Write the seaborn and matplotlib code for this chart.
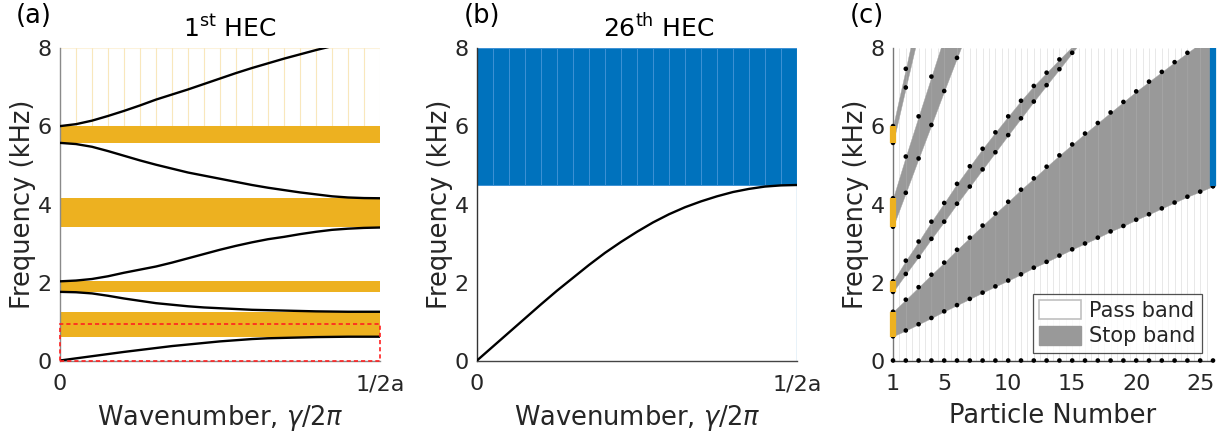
import numpy as np
import matplotlib
matplotlib.use("Agg")
import matplotlib.pyplot as plt
from matplotlib.patches import Rectangle, Patch
import seaborn as sns

sns.set_theme(style="white")
plt.rcParams["font.family"] = ["DejaVu Sans"]
plt.rcParams["mathtext.fontset"] = "dejavusans"

YELLOW = "#EDB120"
BLUE = "#0072BD"
GRAY = "#999999"
TEXT = "#262626"

# ---- (a) dispersion of the 1st HEC -------------------------------------
wavenumber = [0.000, 0.025, 0.050, 0.075, 0.100, 0.125, 0.150, 0.175, 0.200, 0.225, 0.250,
              0.275, 0.300, 0.325, 0.350, 0.375, 0.400, 0.425, 0.450, 0.475, 0.500]
hec1_branch1 = [0.00, 0.055, 0.11, 0.165, 0.22, 0.27, 0.32, 0.37, 0.41, 0.45, 0.49,
                0.52, 0.55, 0.57, 0.58, 0.59, 0.60, 0.605, 0.61, 0.61, 0.61]
hec1_branch2 = [1.76, 1.75, 1.72, 1.66, 1.59, 1.53, 1.47, 1.43, 1.39, 1.36, 1.34,
                1.32, 1.30, 1.29, 1.28, 1.27, 1.26, 1.255, 1.25, 1.25, 1.25]
hec1_branch3 = [2.03, 2.05, 2.09, 2.16, 2.25, 2.33, 2.41, 2.51, 2.62, 2.73, 2.84,
                2.94, 3.03, 3.11, 3.17, 3.24, 3.30, 3.35, 3.38, 3.40, 3.41]
hec1_branch4 = [5.58, 5.55, 5.48, 5.37, 5.25, 5.13, 5.02, 4.92, 4.82, 4.74, 4.66,
                4.58, 4.50, 4.43, 4.37, 4.31, 4.26, 4.21, 4.18, 4.165, 4.16]
hec1_branch5 = [6.01, 6.06, 6.15, 6.27, 6.40, 6.54, 6.69, 6.82, 6.95, 7.09, 7.23,
                7.37, 7.50, 7.62, 7.74, 7.85, 7.96, 8.06, 8.15, 8.23, 8.30]
hec1_stop_lower = [0.61, 1.76, 3.43, 5.58]
hec1_stop_upper = [1.25, 2.03, 4.16, 6.01]
zoom_box_top = 0.93

# ---- (b) dispersion of the 26th HEC ------------------------------------
hec26_branch = [0.00, 0.36, 0.72, 1.08, 1.44, 1.79, 2.12, 2.45, 2.76, 3.04, 3.30,
                3.54, 3.75, 3.93, 4.08, 4.21, 4.32, 4.40, 4.46, 4.49, 4.50]
hec26_stop_lower = 4.50

# ---- (c) band edges along the chain ------------------------------------
particles = list(range(1, 27))
band1_lower = [0.62, 0.77, 0.93, 1.09, 1.26, 1.42, 1.58, 1.74, 1.90, 2.05, 2.21, 2.38, 2.53,
               2.69, 2.85, 3.00, 3.15, 3.31, 3.45, 3.61, 3.75, 3.90, 4.05, 4.20, 4.33, 4.47]
band1_upper = [1.25, 1.56, 1.88, 2.20, 2.51, 2.84, 3.15, 3.46, 3.77, 4.07, 4.38, 4.67, 4.97,
               5.26, 5.54, 5.82, 6.09, 6.36, 6.63, 6.90, 7.15, 7.40, 7.65, 7.89, 8.13, 8.37]
band2_lower = [1.76, 2.22, 2.66, 3.12, 3.56, 4.02, 4.46, 4.90, 5.34, 5.78, 6.21, 6.64, 7.06,
               7.47, 7.89, 8.30]
band2_upper = [2.03, 2.56, 3.05, 3.56, 4.04, 4.53, 4.98, 5.43, 5.85, 6.26, 6.66, 7.04, 7.38,
               7.72, 8.05, 8.38]
band3_lower = [3.43, 4.30, 5.18, 6.04, 6.91, 7.76, 8.60]
band3_upper = [4.16, 5.23, 6.26, 7.28, 8.30, 9.30, 10.30]
band4_lower = [5.58, 7.00, 8.40]
band4_upper = [6.01, 7.48, 9.00]
hec26_edge = 4.47

FMAX = 8.0
LABEL_FS = 18.5
TICK_FS = 16

fig = plt.figure(figsize=(12.18, 4.36), dpi=100)
W, H = 1218.0, 436.0
bottom = (H - 360.5) / H
height = 312.0 / H
width = 320.0 / W
ax_a = fig.add_axes([60 / W, bottom, width, height])
ax_b = fig.add_axes([477 / W, bottom, width, height])
ax_c = fig.add_axes([893 / W, bottom, width, height])


def style_axes(ax, left_color, bottom_color):
    for s in ("top", "right"):
        ax.spines[s].set_visible(False)
    ax.spines["left"].set_color(left_color)
    ax.spines["bottom"].set_color(bottom_color)
    ax.spines["left"].set_linewidth(1.0)
    ax.spines["bottom"].set_linewidth(1.0)
    ax.tick_params(axis="both", direction="in", length=3, width=0.8,
                   colors=TEXT, labelsize=TICK_FS, labelcolor=TEXT)
    ax.tick_params(axis="x", pad=10)
    ax.tick_params(axis="y", pad=6)
    ax.set_ylim(0, FMAX)
    ax.set_yticks([0, 2, 4, 6, 8])
    ax.set_ylabel("Frequency (kHz)", fontsize=LABEL_FS, color=TEXT, labelpad=1)
    ax.set_facecolor("white")


# ---------------- (a) ----------------
ax = ax_a
style_axes(ax, "#8a8a8a", "#8a8a8a")
ax.set_xlim(0, 0.5)
for lo, hi in zip(hec1_stop_lower, hec1_stop_upper):
    ax.axhspan(lo, hi, color=YELLOW, lw=0, zorder=1)
# faint upper region above the last gap
edges = np.linspace(0, 0.5, 21)
for x0, x1 in zip(edges[:-1], edges[1:]):
    ax.add_patch(Rectangle((x0, hec1_stop_upper[-1]), x1 - x0, FMAX - hec1_stop_upper[-1],
                           facecolor="none", edgecolor=YELLOW, alpha=0.16, lw=0.8, zorder=0.5))
for branch in (hec1_branch1, hec1_branch2, hec1_branch3, hec1_branch4, hec1_branch5):
    sns.lineplot(x=wavenumber, y=branch, ax=ax, color="black", lw=1.7, zorder=3)
ax.add_patch(Rectangle((0, 0), 0.5, zoom_box_top, fill=False, edgecolor="#FF2020",
                       ls=(0, (2.5, 1.8)), lw=1.2, clip_on=False, zorder=5))
ax.set_xticks([0, 0.5])
ax.set_xticklabels(["0", "1/2a"])
ax.set_xlabel(r"Wavenumber, $\gamma/2\pi$", fontsize=LABEL_FS, color=TEXT, labelpad=6)
ax.text(0.53, 1 + 11 / 312, r"1$^{\mathrm{st}}$ HEC", transform=ax.transAxes,
        ha="center", va="baseline", fontsize=18, color="black")

# ---------------- (b) ----------------
ax = ax_b
style_axes(ax, "#333333", "#444444")
ax.set_xlim(0, 0.5)
edges = np.linspace(0, 0.5, 21)
for x0, x1 in zip(edges[:-1], edges[1:]):
    ax.add_patch(Rectangle((x0, hec26_stop_lower), x1 - x0, FMAX - hec26_stop_lower,
                           facecolor=BLUE, edgecolor="#3d91d4", lw=0.7, zorder=1))
ax.axvline(0.5, color="#4c9bd6", lw=0.9, zorder=2)
sns.lineplot(x=wavenumber, y=hec26_branch, ax=ax, color="black", lw=1.7, zorder=3)
ax.set_xticks([0, 0.5])
ax.set_xticklabels(["0", "1/2a"])
ax.set_xlabel(r"Wavenumber, $\gamma/2\pi$", fontsize=LABEL_FS, color=TEXT, labelpad=6)
ax.text(0.567, 1 + 11 / 312, r"26$^{\mathrm{th}}$ HEC", transform=ax.transAxes,
        ha="center", va="baseline", fontsize=18, color="black")

# ---------------- (c) ----------------
ax = ax_c
style_axes(ax, "#777777", "#444444")
ax.set_xlim(1, 26)
ax.vlines(np.arange(1, 26.01, 0.5), 0, FMAX, colors="#e8e8e8", lw=0.7, zorder=0.5)

bands = [(band1_lower, band1_upper), (band2_lower, band2_upper),
         (band3_lower, band3_upper), (band4_lower, band4_upper)]
for lower, upper in bands:
    n = len(lower)
    p = particles[:n]
    for i in range(n - 1):
        ax.fill_between([p[i], p[i + 1]], [lower[i], lower[i + 1]], [upper[i], upper[i + 1]],
                        facecolor=GRAY, edgecolor="#a3a3a3", lw=0.3, zorder=1)

# band-edge markers
xs, ys = [], []
for lower, upper in bands:
    for vals in (lower, upper):
        for p, v in zip(particles, vals):
            if v <= FMAX:
                xs.append(p)
                ys.append(v)
xs += particles
ys += [0.0] * len(particles)
xs.append(26)
ys.append(hec26_edge)
sns.scatterplot(x=xs, y=ys, ax=ax, color="black", s=11, edgecolor="none",
                zorder=4, legend=False)
ax.collections[-1].set_clip_on(False)

ax.vlines([1] * len(hec1_stop_lower), hec1_stop_lower, hec1_stop_upper, colors=YELLOW,
          lw=4.5, zorder=6, clip_on=False)
ax.vlines([26], [hec26_edge], [FMAX], colors=BLUE, lw=4.5, zorder=6, clip_on=False)

ax.set_xticks([1, 5, 10, 15, 20, 25])
ax.set_xlabel("Particle Number", fontsize=LABEL_FS, color=TEXT, labelpad=6)

handles = [Patch(facecolor="white", edgecolor="#c0c0c0", lw=1.2, label="Pass band"),
           Patch(facecolor=GRAY, edgecolor=GRAY, label="Stop band")]
leg = ax.legend(handles=handles, loc="lower right", bbox_to_anchor=(0.965, 0.025),
                fontsize=15, frameon=True, fancybox=False, handlelength=2.0,
                handleheight=1.0, handletextpad=0.4, borderpad=0.3, labelspacing=0.25,
                borderaxespad=0.0)
leg.get_frame().set_edgecolor("#262626")
leg.get_frame().set_linewidth(0.9)
leg.set_zorder(10)

# panel letters
for label, xpx in (("(a)", 16), ("(b)", 464), ("(c)", 850)):
    fig.text(xpx / W, 1 - 3 / H, label, ha="left", va="top", fontsize=18.5, color="black")

fig.savefig("out.png", dpi=100, facecolor="white")
